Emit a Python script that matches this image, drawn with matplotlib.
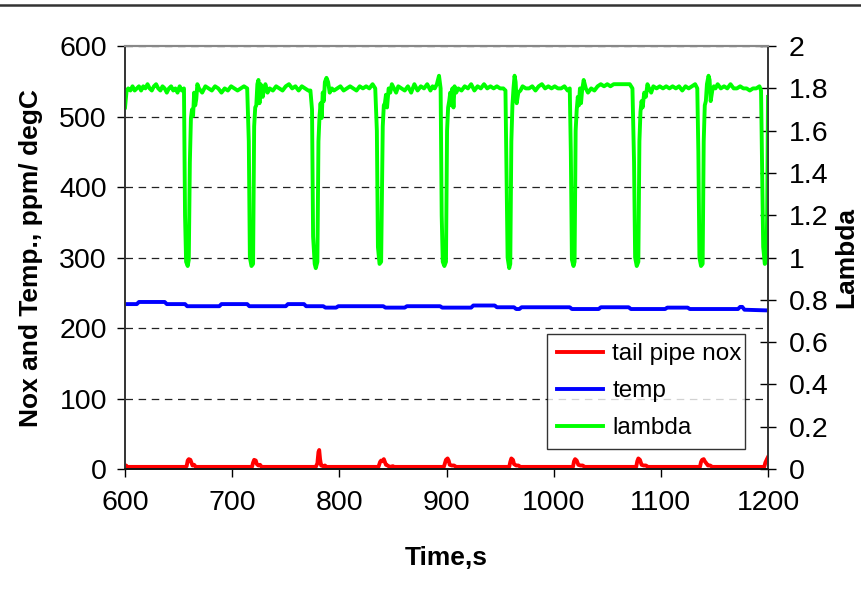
import numpy as np
import matplotlib
matplotlib.use("Agg")
import matplotlib.pyplot as plt
from matplotlib.lines import Line2D
from matplotlib.ticker import FormatStrFormatter

plt.rcParams['font.family'] = ['Liberation Sans', 'DejaVu Sans']

# lambda (right axis)
lam_t = [600, 601.5, 603, 605, 607, 609, 611, 613, 615, 617, 619, 621, 623, 625, 627, 629,
         631, 633, 635, 637, 639, 641, 643, 645, 647, 649, 651, 653, 655,
         656, 657, 658.5, 659.5, 660.5, 661.5, 662.5, 663.5, 664.5, 665.5, 666.5, 667.5,
         669, 672, 675, 678, 681, 684, 687, 690, 693, 696, 699, 702, 705, 708, 711, 714,
         715.5, 716.5, 718, 719.5, 720.5, 721.5, 722.5, 723.5, 724.5, 725.5, 726.5, 727.5,
         728.5, 729.5, 731, 733, 735,
         738, 741, 744, 747, 750, 753, 756, 759, 762, 765, 768, 771,
         773, 774.5, 775.5, 777, 778, 779.5, 780.5, 781.5, 782.5, 783.5, 784.5, 785.5,
         786.5, 788, 789.5, 791, 793, 795,
         798, 801, 804, 807, 810, 813, 816, 819, 822, 825, 828, 831, 833.5,
         835, 836, 837.5, 839, 840.5, 841.5, 842.5, 843.5, 844.5, 846, 847.5, 849, 851, 853, 855,
         858, 861, 864, 867, 870, 873, 876, 879, 882, 885, 887, 889, 891, 893, 894.5,
         895.5, 896.5, 898, 899.5, 900.5, 901.5, 902.5, 903.5, 904.5, 905.5, 906.5, 907.5,
         909, 911, 914, 917, 920,
         923, 926, 929, 932, 935, 938, 941, 944, 947, 950, 953, 955,
         956, 957, 958.5, 959.5, 960.5, 961.5, 962.5, 963.5, 964.5, 965.5, 967, 969, 971, 974,
         977, 980, 983, 986, 989, 992, 995, 998, 1001, 1004, 1007, 1010, 1013, 1015,
         1016, 1017, 1018.5, 1019.5, 1020.5, 1021.5, 1022.5, 1023.5, 1024.5, 1025.5, 1026.5,
         1028, 1030, 1032, 1035,
         1038, 1041, 1044, 1047, 1050, 1053, 1056, 1059, 1062, 1065, 1068, 1071, 1073.5,
         1075, 1076, 1077.5, 1079, 1080, 1081, 1082, 1083, 1084.5, 1086, 1087.5, 1089, 1091, 1093,
         1096, 1099, 1102, 1105, 1108, 1111, 1114, 1117, 1120, 1123, 1126, 1129, 1132, 1134,
         1135, 1136, 1137.5, 1139, 1140, 1141, 1142, 1143, 1144.5, 1145.5, 1146.5, 1148,
         1149.5, 1151, 1153, 1156,
         1159, 1162, 1165, 1168, 1171, 1174, 1177, 1180, 1183, 1186, 1189, 1192, 1193.5,
         1194.5, 1195.5, 1197, 1198.5, 1199.2, 1200]
lam_v = [1.71, 1.79, 1.80, 1.79, 1.81, 1.79, 1.80, 1.81, 1.79, 1.81, 1.80, 1.82, 1.80, 1.79, 1.81, 1.82,
         1.80, 1.79, 1.81, 1.80, 1.78, 1.80, 1.81, 1.79, 1.80, 1.78, 1.81, 1.79, 1.80,
         1.20, 0.98, 0.96, 0.99, 1.45, 1.66, 1.70, 1.67, 1.78, 1.72, 1.75, 1.82,
         1.80, 1.78, 1.81, 1.80, 1.79, 1.81, 1.80, 1.78, 1.80, 1.79, 1.81, 1.80, 1.79, 1.80, 1.81, 1.80,
         1.55, 1.00, 0.96, 0.97, 1.62, 1.71, 1.72, 1.82, 1.84, 1.73, 1.82, 1.80,
         1.76, 1.79, 1.82, 1.78, 1.80,
         1.79, 1.81, 1.80, 1.79, 1.81, 1.82, 1.80, 1.81, 1.79, 1.81, 1.80, 1.79,
         1.79, 1.70, 1.10, 0.97, 0.95, 0.98, 1.55, 1.67, 1.73, 1.66, 1.78, 1.74,
         1.83, 1.85, 1.83, 1.78, 1.80, 1.79,
         1.80, 1.81, 1.79, 1.80, 1.81, 1.80, 1.79, 1.81, 1.80, 1.81, 1.80, 1.82, 1.80,
         1.60, 1.05, 0.97, 0.98, 1.62, 1.72, 1.73, 1.77, 1.71, 1.80, 1.78, 1.82, 1.80, 1.78, 1.81,
         1.80, 1.79, 1.81, 1.78, 1.82, 1.79, 1.81, 1.80, 1.82, 1.79, 1.81, 1.80, 1.82, 1.86, 1.80,
         1.20, 0.98, 0.96, 0.98, 1.60, 1.71, 1.74, 1.78, 1.72, 1.80, 1.71, 1.81,
         1.78, 1.80, 1.79, 1.81, 1.80,
         1.82, 1.79, 1.81, 1.80, 1.82, 1.80, 1.81, 1.80, 1.81, 1.80, 1.80, 1.79,
         1.40, 1.00, 0.95, 0.97, 1.55, 1.72, 1.80, 1.86, 1.83, 1.73, 1.78, 1.79, 1.81, 1.80,
         1.80, 1.81, 1.79, 1.81, 1.82, 1.80, 1.81, 1.80, 1.81, 1.80, 1.80, 1.81, 1.79, 1.80,
         1.50, 0.99, 0.96, 0.98, 1.60, 1.70, 1.76, 1.72, 1.80, 1.73, 1.79,
         1.84, 1.80, 1.78, 1.80,
         1.79, 1.81, 1.82, 1.81, 1.82, 1.81, 1.82, 1.82, 1.82, 1.82, 1.82, 1.82, 1.80,
         1.45, 1.00, 0.96, 0.98, 1.55, 1.69, 1.74, 1.71, 1.78, 1.76, 1.82, 1.80, 1.78, 1.81,
         1.80, 1.81, 1.80, 1.81, 1.80, 1.81, 1.80, 1.81, 1.79, 1.81, 1.80, 1.81, 1.82, 1.80,
         1.50, 1.00, 0.96, 0.97, 1.55, 1.72, 1.74, 1.82, 1.86, 1.84, 1.74, 1.79,
         1.81, 1.80, 1.82, 1.80,
         1.81, 1.80, 1.82, 1.80, 1.80, 1.81, 1.80, 1.80, 1.79, 1.80, 1.80, 1.81, 1.79,
         1.40, 1.05, 0.97, 0.98, 1.20, 1.76]

# tail pipe nox, ppm
nox_t = [600, 601, 602, 656, 657.5, 658.5, 659.5, 661, 662, 663, 664.5, 666,
         718.5, 719.5, 720.5, 722, 723, 724.5, 726, 727.5,
         778, 779.5, 780.5, 781.2, 782, 783, 785, 786.5, 788,
         836.5, 838, 839, 840.5, 841.5, 842.5, 843.5, 845, 847, 850, 851,
         897.5, 898.5, 899.5, 901, 902, 903, 905, 907, 909,
         958.5, 959.5, 960.5, 962, 963, 965, 967, 969,
         1018, 1019, 1020, 1021.5, 1023, 1025, 1027, 1029,
         1077, 1078, 1079, 1080.5, 1082, 1084, 1086, 1088,
         1136.5, 1137.5, 1138.5, 1140, 1141, 1142.5, 1144, 1146, 1148,
         1196.5, 1197.5, 1199, 1200]
nox_v = [3, 5, 3, 3, 4, 12, 14, 13, 9, 5, 6, 3,
         3, 9, 13, 12, 7, 5, 6, 3,
         3, 8, 24, 27, 14, 5, 4, 5, 3,
         3, 10, 12, 11, 14, 10, 6, 5, 3, 4, 3,
         3, 8, 13, 15, 12, 6, 5, 5, 3,
         3, 10, 15, 13, 7, 5, 5, 3,
         3, 11, 14, 12, 6, 5, 5, 3,
         3, 11, 15, 13, 6, 5, 5, 3,
         3, 10, 13, 14, 11, 8, 5, 5, 3,
         3, 9, 14, 17]

# temperature, degC
temp_t = [600, 611, 613, 637, 639, 656, 658, 688, 690, 714, 716, 750, 752, 767, 769,
          785, 787, 797, 799, 841, 843, 861, 863, 894, 896, 923, 925, 945, 947, 963,
          965, 968, 970, 1015, 1017, 1042, 1044, 1070, 1072, 1104, 1106, 1125, 1127,
          1172, 1174, 1176, 1178, 1200]
temp_v = [234, 234, 237, 237, 234, 234, 231, 231, 234, 234, 231, 231, 234, 234, 231,
          231, 229, 229, 231, 231, 229, 229, 231, 231, 229, 229, 232, 232, 229.5, 229.5,
          227, 227, 229.5, 229.5, 227, 227, 229.5, 229.5, 227, 227, 229, 229, 227,
          227, 230, 230, 226, 225]

xticks = [600, 700, 800, 900, 1000, 1100, 1200]
yticks = [0, 100, 200, 300, 400, 500, 600]
y2ticks = [0, 0.2, 0.4, 0.6, 0.8, 1.0, 1.2, 1.4, 1.6, 1.8, 2.0]

fs = 20.5

fig = plt.figure(figsize=(8.61, 5.99), dpi=100)
ax = fig.add_axes([0.1452, 0.217, 0.7468, 0.706])
ax2 = ax.twinx()

# line across the top of the picture
fig.add_artist(Line2D([0, 1], [0.9917, 0.9917], transform=fig.transFigure,
                      color='#333333', lw=1.8))

ax.grid(axis='y', ls=(0, (6, 4.5)), color='#222222', lw=0.9)
ax.set_axisbelow(True)

l1, = ax.plot(nox_t, nox_v, color='#ff0000', lw=2.8, label='tail pipe nox')
l2, = ax.plot(temp_t, temp_v, color='#0000ff', lw=2.8, label='temp')
l3, = ax2.plot(lam_t, lam_v, color='#00ff00', lw=2.8, label='lambda')

ax.set_xlim(600, 1200)
ax.set_ylim(0, 600)
ax2.set_ylim(0, 2)
ax.set_xticks(xticks)
ax.set_yticks(yticks)
ax2.set_yticks(y2ticks)
ax2.yaxis.set_major_formatter(FormatStrFormatter('%g'))

for a in (ax, ax2):
    for s in a.spines.values():
        s.set_linewidth(1.2)
    a.spines['top'].set_color('#888888')
    a.spines['top'].set_linewidth(1.5)
    a.spines['left'].set_color('#333333')
    a.spines['right'].set_color('#333333')
    a.spines['bottom'].set_color('#111111')

ax.tick_params(axis='x', direction='out', length=6, width=1, labelsize=fs, pad=9)
ax.tick_params(axis='y', direction='out', length=6, width=1, labelsize=fs, pad=7)
ax2.tick_params(axis='y', direction='inout', length=12, width=1, labelsize=fs, pad=9)

ax.set_xlabel('Time,s', fontsize=19, fontweight='bold', labelpad=22)
ax.set_ylabel('Nox and Temp., ppm/ degC', fontsize=19, fontweight='bold', labelpad=12)
ax2.set_ylabel('Lambda', fontsize=19, fontweight='bold', labelpad=4)

leg = ax2.legend(handles=[l1, l2, l3], loc='lower left',
                 bbox_to_anchor=(0.656, 0.047, 0.308, 0.286), mode='expand',
                 fontsize=17.5, frameon=True, fancybox=False, edgecolor='#000000',
                 handlelength=1.9, handletextpad=0.4, labelspacing=0.62,
                 borderpad=0.4, borderaxespad=0)
leg.get_frame().set_linewidth(1.0)

fig.savefig('out.png', dpi=100)
